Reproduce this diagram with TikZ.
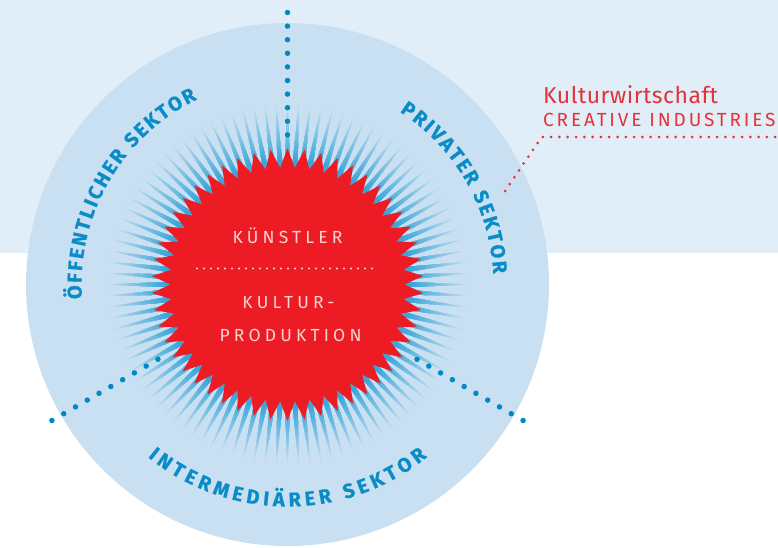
\documentclass[tikz,border=0pt]{standalone}
\usepackage{fontspec}
\setmainfont{Fira Sans}
\newfontfamily\sektorfont{Fira Sans}[FakeBold=0.6]
\usetikzlibrary{decorations.text}

\definecolor{bandbg}{HTML}{E2EEF7}
\definecolor{circlebg}{HTML}{C8E0F1}
\definecolor{raydark}{HTML}{3AA6DA}
\definecolor{starred}{HTML}{ED1C24}
\definecolor{dotblue}{HTML}{0089C6}
\definecolor{labelblue}{HTML}{0A8DC7}
\definecolor{textpink}{HTML}{F9D2D2}
\definecolor{kwred}{HTML}{E5323A}

\begin{document}
\begin{tikzpicture}[
    x=1pt, y=1pt,
    sectorline/.style={draw=dotblue, line width=5.5pt, line cap=round, dash pattern=on 0pt off 13.6pt},
    kwline/.style={draw=kwred, line width=3pt, line cap=round, dash pattern=on 0pt off 8.3pt},
    midline/.style={draw=textpink, line width=2.4pt, line cap=round, dash pattern=on 0pt off 7pt},
    centertext/.style={text=textpink, font=\fontsize{17.5}{17.5}\selectfont\addfontfeature{LetterSpace=24}, anchor=base, inner sep=0pt},
    kwtext/.style={text=kwred, anchor=base west, inner sep=0pt},
    sektor/.style={decoration={text along path, text align=fit to path, text={|\sektorfont\bfseries\fontsize{20}{20}\selectfont\color{labelblue}|#1}}, decorate}
]
    \useasboundingbox (-287.5,-262.5) rectangle (490.5,284.5);

    % Background band and sector circle
    \fill[bandbg] (-287.5,31.5) rectangle (490.5,284.5);
    \fill[circlebg] (0,0) circle[radius=261.5];

    % Rays round the star, fading outwards
    \begin{scope}
        \clip \foreach \i [evaluate=\i as \a using \i*3.6] in {0,...,99} {
            (\a-1.5:112) -- (\a:184) -- (\a+1.5:112) -- cycle };
        \foreach \k [evaluate=\k as \p using {min(100,\k*6)}] in {0,...,19}
            \fill[raydark!\p!circlebg] (0,0) circle[radius=184-3.5*\k];
    \end{scope}

    % Sector borders
    \coordinate (centre) at (0,0);
    \coordinate (top out) at (90:272);
    \coordinate (top in) at (90:137);
    \coordinate (left out) at (210:272);
    \coordinate (left in) at (210:137);
    \coordinate (right out) at (330:272);
    \coordinate (right in) at (330:137);
    \draw[sectorline] (top out) -- (top in);
    \draw[sectorline] (left out) -- (left in);
    \draw[sectorline] (right out) -- (right in);

    % Star
    \fill[starred] (90:136) \foreach \i in {1,...,50} {
        -- (90+\i*7.2-3.6:117) -- (90+\i*7.2:136) } -- cycle;

    % Centre texts
    \node[centertext] (kuenstler) at (0,41.2) {KÜNSTLER};
    \node[centertext] (kultur) at (1,-23.5) {KULTUR-};
    \node[centertext] (produktion) at (3,-56.5) {PRODUKTION};
    \coordinate (mid left) at (-90.5,16);
    \coordinate (mid right) at (90.5,16);
    \draw[midline] (mid left) -- (mid right);

    % Sector labels
    \path[sektor={ÖFFENTLICHER SEKTOR}] (184:206) arc[start angle=184, end angle=116, radius=206];
    \path[sektor={PRIVATER SEKTOR}] (57:206) arc[start angle=57, end angle=3, radius=206];
    \path[sektor={INTERMEDIÄRER SEKTOR}] (231:222) arc[start angle=231, end angle=309, radius=222];

    % Kulturwirtschaft label
    \node[kwtext, font=\fontsize{23}{23}\selectfont\addfontfeature{LetterSpace=2}] (kw) at (255.5,181.5) {Kulturwirtschaft};
    \node[kwtext, font=\fontsize{19}{19}\selectfont\addfontfeature{LetterSpace=15}] (ci) at (255.5,158.5) {CREATIVE INDUSTRIES};
    \coordinate (kw start) at (217.5,93.5);
    \coordinate (kw bend) at (254.2,147.5);
    \coordinate (kw end) at (490.5,147.5);
    \draw[kwline] (kw start) -- (kw bend) -- (kw end);
\end{tikzpicture}
\end{document}
